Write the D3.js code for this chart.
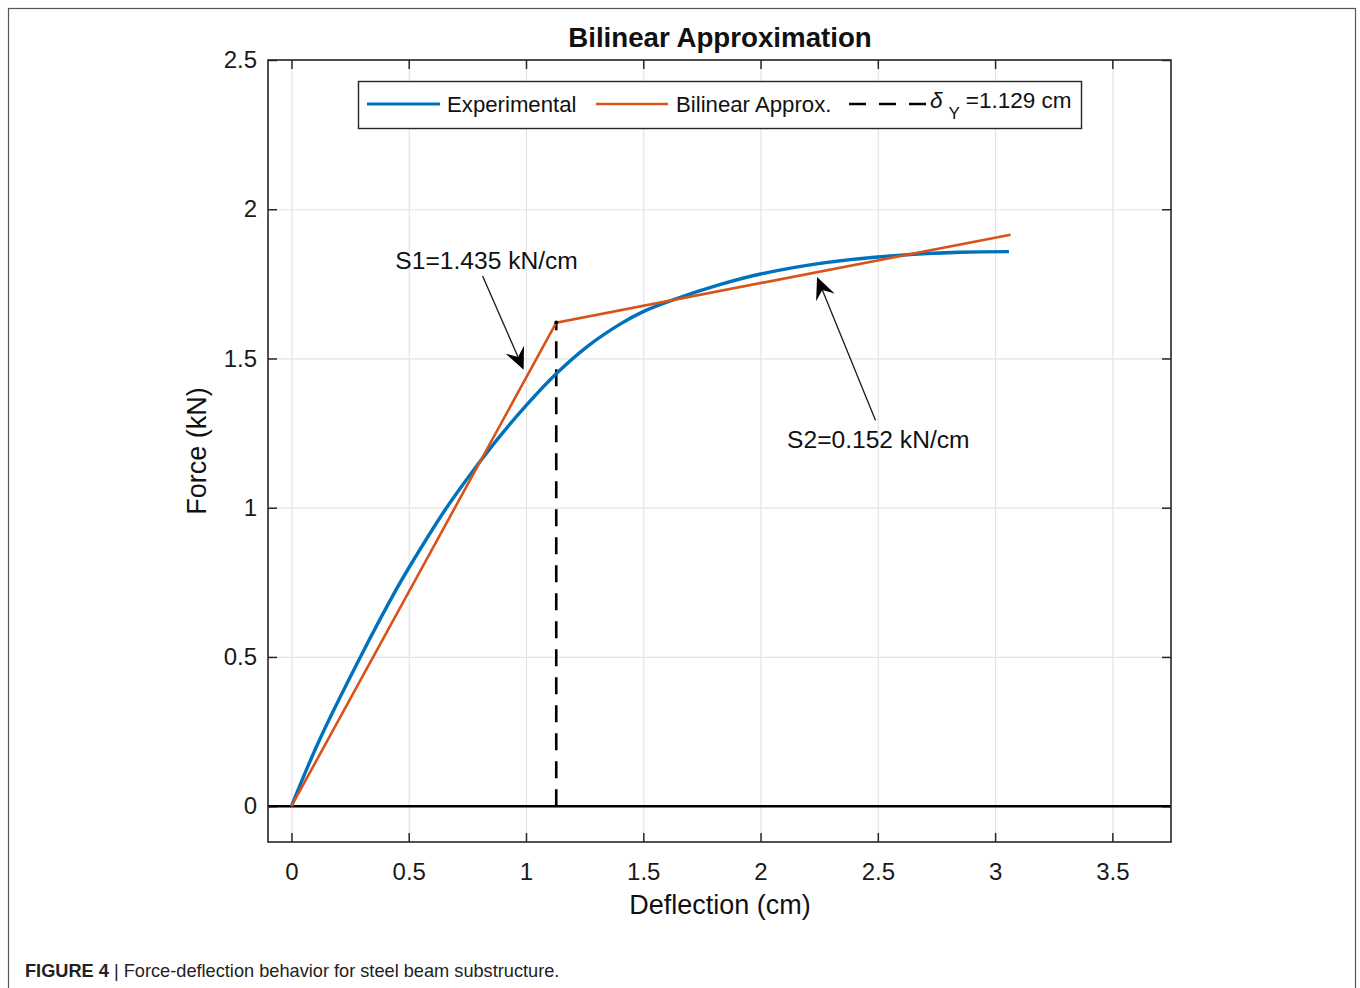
<!DOCTYPE html>
<html>
<head>
<meta charset="utf-8">
<script src="https://cdn.jsdelivr.net/npm/d3@7/dist/d3.min.js"></script>
<style>
  html, body { margin: 0; padding: 0; background: #fff; }
  svg { display: block; font-family: "Liberation Sans", Arial, Helvetica, sans-serif; }
</style>
</head>
<body>
<svg id="chart" width="1360" height="988"></svg>
<script>
// Measured force-deflection response of the steel beam substructure
const expDeflection = [0, 0.116, 0.294, 0.444, 0.5, 0.657, 0.792, 0.883, 1.0, 1.133, 1.261, 1.403, 1.5, 1.63, 1.829, 2.0, 2.284, 2.597, 2.853, 3.059];
const expForce      = [0, 0.216, 0.500, 0.722, 0.798, 0.995, 1.142, 1.234, 1.342, 1.452, 1.540, 1.616, 1.657, 1.697, 1.748, 1.783, 1.822, 1.846, 1.856, 1.858];

// Bilinear idealisation: initial stiffness S1 up to yield, then S2
const yieldDeflection = 1.129;   // cm
const stiffnessS1 = 1.435;       // kN/cm
const stiffnessS2 = 0.152;       // kN/cm
const endDeflection = 3.066;     // cm
const bilinDeflection = [0, yieldDeflection, endDeflection];
const bilinForce = [
  0,
  stiffnessS1 * yieldDeflection,
  stiffnessS1 * yieldDeflection + stiffnessS2 * (endDeflection - yieldDeflection)
];

const xTicks = [0, 0.5, 1, 1.5, 2, 2.5, 3, 3.5];
const yTicks = [0, 0.5, 1, 1.5, 2, 2.5];
const xTickLabels = ["0", "0.5", "1", "1.5", "2", "2.5", "3", "3.5"];
const yTickLabels = ["0", "0.5", "1", "1.5", "2", "2.5"];

// Annotation labels and arrows (tail -> tip), in data units
const s1Label = { text: "S1=1.435 kN/cm", x: 0.832, y: 1.80, anchor: "middle" };
const s1Arrow = { x0: 0.815, y0: 1.776, x1: 0.990, y1: 1.462 };
const s2Label = { text: "S2=0.152 kN/cm", x: 2.113, y: 1.20, anchor: "start" };
const s2Arrow = { x0: 2.49, y0: 1.293, x1: 2.241, y1: 1.773 };

const COLORS = { exp: "#0072BD", bilin: "#D95319" };

const svg = d3.select("#chart");

// figure frame
svg.append("rect")
  .attr("x", 8.5).attr("y", 8.5)
  .attr("width", 1347).attr("height", 1010)
  .attr("fill", "none").attr("stroke", "#555").attr("stroke-width", 1.2);

const plot = { left: 268, right: 1171, top: 60, bottom: 842 };
const x = d3.scaleLinear().domain([-0.1, 3.75]).range([plot.left, plot.right]);
const y = d3.scaleLinear().domain([-0.12, 2.5]).range([plot.bottom, plot.top]);

// grid
const grid = svg.append("g").attr("class", "grid");
grid.append("g")
  .attr("transform", `translate(0,${plot.bottom})`)
  .call(d3.axisBottom(x).tickValues(xTicks).tickSize(-(plot.bottom - plot.top)).tickFormat(""));
grid.append("g")
  .attr("transform", `translate(${plot.left},0)`)
  .call(d3.axisLeft(y).tickValues(yTicks).tickSize(-(plot.right - plot.left)).tickFormat(""));
grid.selectAll(".domain").remove();
grid.selectAll("line").attr("stroke", "#e3e3e3").attr("stroke-width", 1.2);

// axes with inward ticks on all four sides
const tickLen = 9;
const axisColor = "#262626";
const gBottom = svg.append("g").attr("transform", `translate(0,${plot.bottom})`)
  .call(d3.axisBottom(x).tickValues(xTicks).tickSize(-tickLen).tickPadding(21)
    .tickFormat((d, i) => xTickLabels[i]));
const gTop = svg.append("g").attr("transform", `translate(0,${plot.top})`)
  .call(d3.axisTop(x).tickValues(xTicks).tickSize(-tickLen).tickFormat(""));
const gLeft = svg.append("g").attr("transform", `translate(${plot.left},0)`)
  .call(d3.axisLeft(y).tickValues(yTicks).tickSize(-tickLen).tickPadding(11)
    .tickFormat((d, i) => yTickLabels[i]));
const gRight = svg.append("g").attr("transform", `translate(${plot.right},0)`)
  .call(d3.axisRight(y).tickValues(yTicks).tickSize(-tickLen).tickFormat(""));
[gBottom, gTop, gLeft, gRight].forEach(g => {
  g.select(".domain").remove();
  g.selectAll("line").attr("stroke", axisColor).attr("stroke-width", 1.5);
  g.selectAll("text").attr("font-size", 24).attr("fill", "#1a1a1a")
    .attr("font-family", "'Liberation Sans', Arial, sans-serif");
});

// zero-force baseline
svg.append("line")
  .attr("x1", plot.left).attr("x2", plot.right)
  .attr("y1", y(0)).attr("y2", y(0))
  .attr("stroke", "#000").attr("stroke-width", 2.6);

// yield deflection marker
svg.append("line")
  .attr("x1", x(yieldDeflection)).attr("x2", x(yieldDeflection))
  .attr("y1", y(0)).attr("y2", y(bilinForce[1]))
  .attr("stroke", "#000").attr("stroke-width", 2.6)
  .attr("stroke-dasharray", "17,11");

// experimental curve
svg.append("path")
  .datum(expDeflection.map((d, i) => [d, expForce[i]]))
  .attr("d", d3.line().x(d => x(d[0])).y(d => y(d[1])).curve(d3.curveCatmullRom.alpha(0.5)))
  .attr("fill", "none").attr("stroke", COLORS.exp).attr("stroke-width", 3.4)
  .attr("stroke-linejoin", "round");

// bilinear approximation
svg.append("path")
  .datum(bilinDeflection.map((d, i) => [d, bilinForce[i]]))
  .attr("d", d3.line().x(d => x(d[0])).y(d => y(d[1])))
  .attr("fill", "none").attr("stroke", COLORS.bilin).attr("stroke-width", 2.6)
  .attr("stroke-linejoin", "miter");

svg.append("circle")
  .attr("cx", x(yieldDeflection)).attr("cy", y(bilinForce[1]))
  .attr("r", 2).attr("fill", "#000");

// plot frame
svg.append("rect")
  .attr("x", plot.left).attr("y", plot.top)
  .attr("width", plot.right - plot.left).attr("height", plot.bottom - plot.top)
  .attr("fill", "none").attr("stroke", axisColor).attr("stroke-width", 1.6);

// annotation arrows
function drawArrow(a) {
  const x0 = x(a.x0), y0 = y(a.y0), x1 = x(a.x1), y1 = y(a.y1);
  const ang = Math.atan2(y1 - y0, x1 - x0);
  const L = 22, W = 10, notch = 8;
  svg.append("line")
    .attr("x1", x0).attr("y1", y0)
    .attr("x2", x1 - Math.cos(ang) * (L - notch)).attr("y2", y1 - Math.sin(ang) * (L - notch))
    .attr("stroke", "#1a1a1a").attr("stroke-width", 1.3);
  const head = `M0,0 L${-L},${-W} L${-L + notch},0 L${-L},${W} Z`;
  svg.append("path")
    .attr("d", head)
    .attr("transform", `translate(${x1},${y1}) rotate(${ang * 180 / Math.PI})`)
    .attr("fill", "#000");
}
drawArrow(s1Arrow);
drawArrow(s2Arrow);

[s1Label, s2Label].forEach(l => {
  svg.append("text")
    .attr("x", x(l.x)).attr("y", y(l.y))
    .attr("text-anchor", l.anchor)
    .attr("font-size", 24.6).attr("fill", "#111")
    .text(l.text);
});

// title and axis labels
svg.append("text")
  .attr("x", 720).attr("y", 47)
  .attr("text-anchor", "middle")
  .attr("font-size", 27.7).attr("font-weight", "bold").attr("fill", "#111")
  .text("Bilinear Approximation");

svg.append("text")
  .attr("x", 720).attr("y", 914)
  .attr("text-anchor", "middle")
  .attr("font-size", 27).attr("fill", "#111")
  .text("Deflection (cm)");

svg.append("text")
  .attr("transform", `translate(206,451) rotate(-90)`)
  .attr("text-anchor", "middle")
  .attr("font-size", 27).attr("fill", "#111")
  .text("Force (kN)");

// legend
const legend = svg.append("g");
legend.append("rect")
  .attr("x", 358.5).attr("y", 81.5).attr("width", 723).attr("height", 47)
  .attr("fill", "#fff").attr("stroke", axisColor).attr("stroke-width", 1.4);
const legY = 104;
legend.append("line").attr("x1", 367).attr("x2", 440).attr("y1", legY).attr("y2", legY)
  .attr("stroke", COLORS.exp).attr("stroke-width", 3.2);
legend.append("text").attr("x", 447).attr("y", legY + 8)
  .attr("font-size", 22.2).attr("fill", "#111").text("Experimental");
legend.append("line").attr("x1", 596).attr("x2", 668).attr("y1", legY).attr("y2", legY)
  .attr("stroke", COLORS.bilin).attr("stroke-width", 2.6);
legend.append("text").attr("x", 676).attr("y", legY + 8)
  .attr("font-size", 22.2).attr("fill", "#111").text("Bilinear Approx.");
legend.append("line").attr("x1", 849).attr("x2", 926).attr("y1", legY).attr("y2", legY)
  .attr("stroke", "#000").attr("stroke-width", 2.6).attr("stroke-dasharray", "17,13");
const dl = legend.append("text").attr("x", 930).attr("y", legY + 4)
  .attr("font-size", 22.5).attr("fill", "#111");
dl.append("tspan").attr("font-style", "italic").text("δ");
dl.append("tspan").attr("font-size", 17).attr("dx", 6).attr("dy", 11).text("Y");
dl.append("tspan").attr("dx", 6).attr("dy", -11).text("=1.129 cm");

// caption
const cap = svg.append("text").attr("x", 25).attr("y", 977)
  .attr("font-size", 18.2).attr("fill", "#222");
cap.append("tspan").attr("font-weight", "bold").text("FIGURE 4");
cap.append("tspan").text(" | Force-deflection behavior for steel beam substructure.");
</script>
</body>
</html>
